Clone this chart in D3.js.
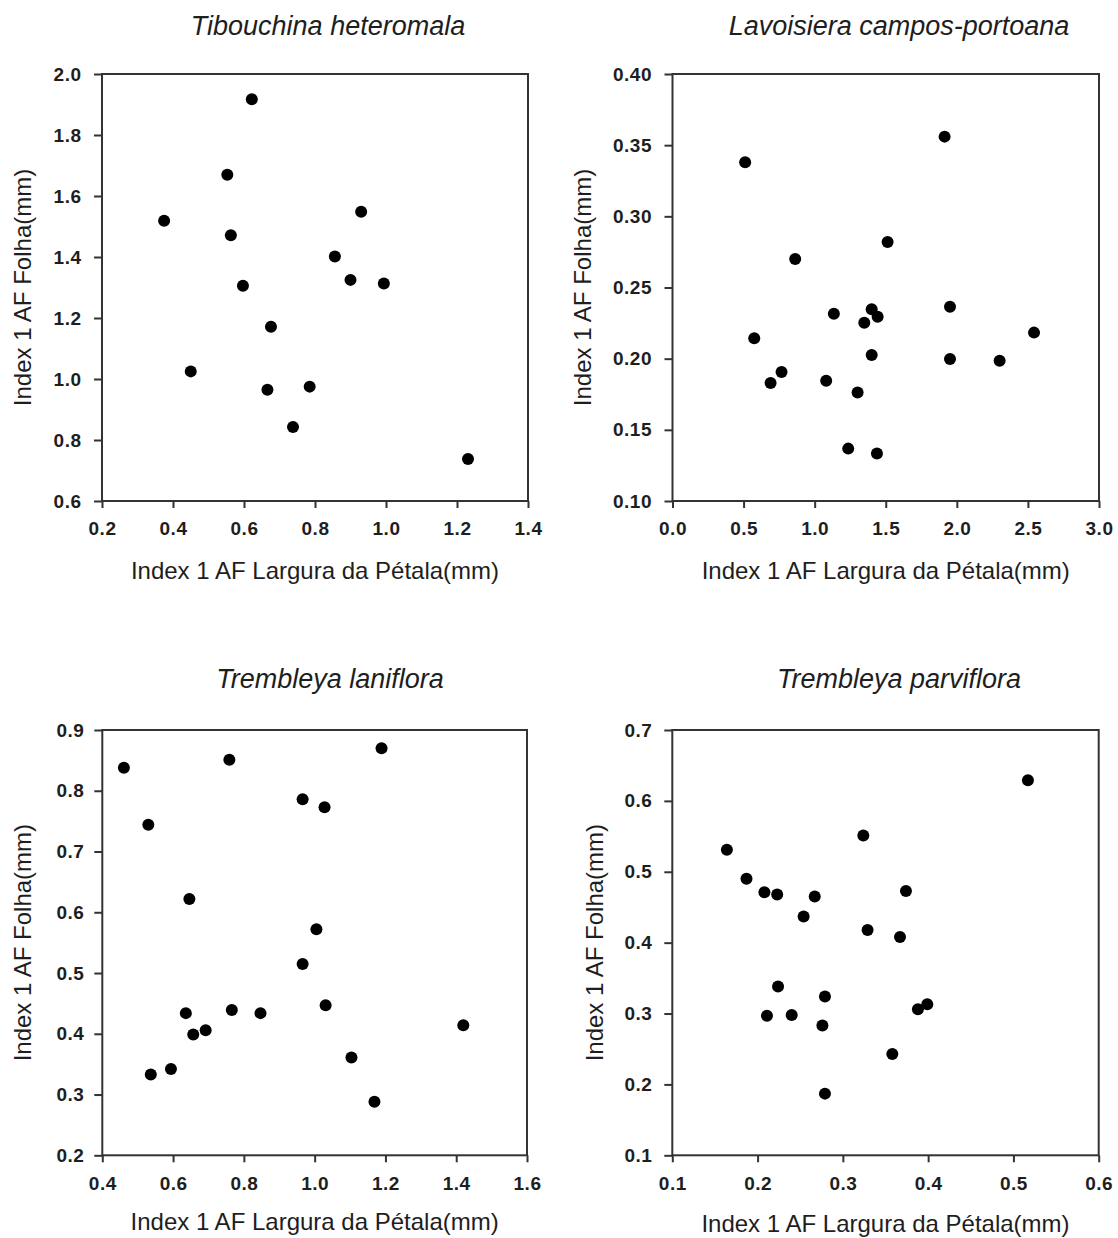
<!DOCTYPE html>
<html>
<head>
<meta charset="utf-8">
<script src="https://cdn.jsdelivr.net/npm/d3@7"></script>
<style>
  body { margin: 0; background: #fff; }
  svg { display: block; }
  text { font-family: "Liberation Sans", Arial, sans-serif; fill: #1e1e1e; }
</style>
</head>
<body>
<svg id="chart" width="1118" height="1238"></svg>
<script>
// labels
const titles = ["Tibouchina heteromala", "Lavoisiera campos-portoana", "Trembleya laniflora", "Trembleya parviflora"];
const xLabel = "Index 1 AF Largura da Pétala(mm)";
const yLabel = "Index 1 AF Folha(mm)";

// Tibouchina heteromala
const tibX = [0.622, 0.553, 0.375, 0.563, 0.930, 0.856, 0.900, 0.994, 0.597, 0.676, 0.450, 0.666, 0.785, 0.738, 1.231];
const tibY = [1.917, 1.670, 1.519, 1.471, 1.548, 1.402, 1.325, 1.313, 1.306, 1.171, 1.025, 0.965, 0.975, 0.843, 0.738];
const tibXTicks = [0.2, 0.4, 0.6, 0.8, 1.0, 1.2, 1.4];
const tibYTicks = [0.6, 0.8, 1.0, 1.2, 1.4, 1.6, 1.8, 2.0];

// Lavoisiera campos-portoana
const lavX = [1.914, 0.511, 1.513, 0.863, 1.952, 1.401, 1.135, 1.443, 1.349, 0.575, 2.543, 1.401, 1.952, 2.301, 0.767, 0.690, 1.081, 1.302, 1.236, 1.438];
const lavY = [0.356, 0.338, 0.282, 0.270, 0.2365, 0.2347, 0.2316, 0.2295, 0.2253, 0.2143, 0.2183, 0.2025, 0.1997, 0.1985, 0.1906, 0.1829, 0.1845, 0.1763, 0.1368, 0.1333];
const lavXTicks = [0.0, 0.5, 1.0, 1.5, 2.0, 2.5, 3.0];
const lavYTicks = [0.10, 0.15, 0.20, 0.25, 0.30, 0.35, 0.40];

// Trembleya laniflora
const lanX = [0.461, 0.759, 1.189, 0.966, 1.028, 0.530, 0.646, 1.005, 0.966, 1.031, 0.636, 0.766, 0.847, 0.657, 0.692, 1.420, 0.537, 0.594, 1.104, 1.169];
const lanY = [0.838, 0.851, 0.870, 0.786, 0.773, 0.744, 0.622, 0.572, 0.515, 0.447, 0.434, 0.439, 0.434, 0.399, 0.406, 0.414, 0.333, 0.342, 0.361, 0.288];
const lanXTicks = [0.4, 0.6, 0.8, 1.0, 1.2, 1.4, 1.6];
const lanYTicks = [0.2, 0.3, 0.4, 0.5, 0.6, 0.7, 0.8, 0.9];

// Trembleya parviflora
const parX = [0.517, 0.324, 0.164, 0.187, 0.208, 0.223, 0.267, 0.374, 0.254, 0.329, 0.367, 0.224, 0.279, 0.211, 0.240, 0.276, 0.388, 0.399, 0.358, 0.279];
const parY = [0.629, 0.551, 0.531, 0.490, 0.471, 0.468, 0.465, 0.473, 0.437, 0.418, 0.408, 0.338, 0.324, 0.297, 0.298, 0.283, 0.306, 0.313, 0.243, 0.187];
const parXTicks = [0.1, 0.2, 0.3, 0.4, 0.5, 0.6];
const parYTicks = [0.1, 0.2, 0.3, 0.4, 0.5, 0.6, 0.7];

const svg = d3.select("#chart");

// one panel per species, frame placement
const panels = [
  { xs: tibX, ys: tibY, xt: tibXTicks, yt: tibYTicks, yf: ".1f",
    left: 102, right: 528, top: 74, bottom: 501, titleX: 328, titleY: 34.5, yLabX: 31, xLabY: 578.5, yPad: 12.5 },
  { xs: lavX, ys: lavY, xt: lavXTicks, yt: lavYTicks, yf: ".2f",
    left: 672.5, right: 1099, top: 74, bottom: 501, titleX: 899, titleY: 34.5, yLabX: 591, xLabY: 578.5, yPad: 12.5 },
  { xs: lanX, ys: lanY, xt: lanXTicks, yt: lanYTicks, yf: ".1f",
    left: 102.3, right: 527, top: 730, bottom: 1155.3, titleX: 330, titleY: 688, yLabX: 31, xLabY: 1230, yPad: 10 },
  { xs: parX, ys: parY, xt: parXTicks, yt: parYTicks, yf: ".1f",
    left: 672.3, right: 1098.7, top: 730, bottom: 1155.3, titleX: 899, titleY: 688, yLabX: 603, xLabY: 1231.5, yPad: 12 }
];

panels.forEach((p, i) => {
  const x = d3.scaleLinear()
    .domain(d3.extent(p.xt))
    .range([p.left, p.right]);
  const y = d3.scaleLinear()
    .domain(d3.extent(p.yt))
    .range([p.bottom, p.top]);

  const xAxis = svg.append("g")
    .attr("transform", `translate(0,${p.bottom})`)
    .call(d3.axisBottom(x).tickValues(p.xt).tickFormat(d3.format(".1f"))
      .tickSize(7).tickSizeOuter(0).tickPadding(14));
  const yAxis = svg.append("g")
    .attr("transform", `translate(${p.left},0)`)
    .call(d3.axisLeft(y).tickValues(p.yt).tickFormat(d3.format(p.yf))
      .tickSize(8).tickSizeOuter(0).tickPadding(p.yPad));

  [xAxis, yAxis].forEach((g) => {
    g.select(".domain").remove();
    g.selectAll("line").attr("stroke", "#333").attr("stroke-width", 2);
    g.selectAll("text")
      .attr("fill", "#1e1e1e")
      .style("font-size", "19px")
      .style("font-weight", "bold")
      .style("letter-spacing", "0.5px");
  });

  // frame
  svg.append("rect")
    .attr("x", p.left)
    .attr("y", p.top)
    .attr("width", p.right - p.left)
    .attr("height", p.bottom - p.top)
    .attr("fill", "none")
    .attr("stroke", "#333")
    .attr("stroke-width", 2);

  svg.append("g")
    .selectAll("circle")
    .data(d3.zip(p.xs, p.ys))
    .join("circle")
    .attr("cx", (d) => x(d[0]))
    .attr("cy", (d) => y(d[1]))
    .attr("r", 6)
    .attr("fill", "#000");

  svg.append("text")
    .attr("x", p.titleX)
    .attr("y", p.titleY)
    .attr("text-anchor", "middle")
    .style("font-size", "27px")
    .style("font-style", "italic")
    .text(titles[i]);

  svg.append("text")
    .attr("x", (p.left + p.right) / 2)
    .attr("y", p.xLabY)
    .attr("text-anchor", "middle")
    .style("font-size", "24px")
    .text(xLabel);

  svg.append("text")
    .attr("transform", `translate(${p.yLabX},${(p.top + p.bottom) / 2}) rotate(-90)`)
    .attr("text-anchor", "middle")
    .style("font-size", "24px")
    .text(yLabel);
});
</script>
</body>
</html>
